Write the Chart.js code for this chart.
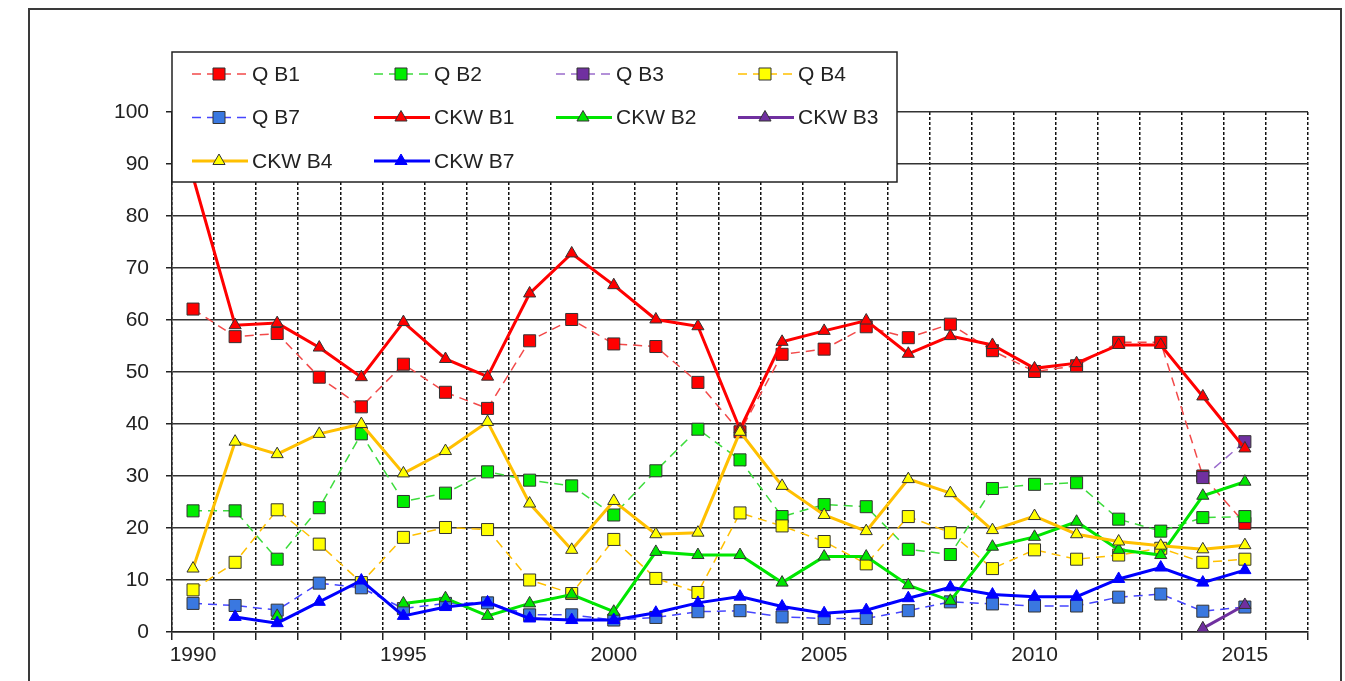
<!DOCTYPE html>
<html>
<head>
<meta charset="utf-8">
<title>Q / CKW B1-B7</title>
<script src="https://cdn.jsdelivr.net/npm/chart.js@4.4.0/dist/chart.umd.min.js"></script>
<style>
    html, body { margin: 0; padding: 0; background: #fff; }
    #wrap { width: 1345px; height: 681px; }
</style>
</head>
<body>
<div id="wrap"><canvas id="myChart" width="1345" height="681"></canvas></div>
<script>
const years = [1990, 1991, 1992, 1993, 1994, 1995, 1996, 1997, 1998, 1999,
    2000, 2001, 2002, 2003, 2004, 2005, 2006, 2007, 2008, 2009,
    2010, 2011, 2012, 2013, 2014, 2015, 2016];
const yTicks = [0, 10, 20, 30, 40, 50, 60, 70, 80, 90, 100];

const qB1 = [62.1, 56.8, 57.4, 49.0, 43.3, 51.5, 46.1, 43.0, 56.0, 60.1, 55.4, 54.9, 48.0, 38.5, 53.4, 54.4, 58.7, 56.6, 59.2, 54.1, 50.1, 51.2, 55.7, 55.7, 30.0, 20.9, null];
const qB2 = [23.3, 23.3, 14.0, 23.9, 38.1, 25.1, 26.7, 30.8, 29.2, 28.1, 22.5, 31.0, 39.0, 33.1, 22.2, 24.5, 24.1, 15.9, 14.9, 27.6, 28.4, 28.7, 21.7, 19.4, 22.0, 22.2, null];
const qB3 = [null, null, null, null, null, null, null, null, null, null, null, null, null, null, null, null, null, null, null, null, null, null, null, null, 29.7, 36.6, null];
const qB4 = [8.1, 13.4, 23.5, 16.9, 9.5, 18.2, 20.1, 19.7, 10.0, 7.4, 17.8, 10.3, 7.6, 22.9, 20.4, 17.4, 13.1, 22.2, 19.1, 12.2, 15.8, 14.0, 14.8, 16.1, 13.4, 14.0, null];
const qB7 = [5.5, 5.1, 4.2, 9.4, 8.5, 4.5, 5.5, 5.6, 3.3, 3.3, 2.3, 2.8, 3.9, 4.1, 2.9, 2.6, 2.6, 4.1, 5.8, 5.4, 5.0, 5.0, 6.7, 7.3, 4.0, 4.8, null];

const ckwB1 = [87.5, 59.0, 59.4, 54.7, 49.0, 59.6, 52.5, 49.1, 65.1, 72.8, 66.7, 60.1, 58.8, 39.0, 55.8, 57.9, 59.9, 53.5, 56.9, 55.2, 50.7, 51.7, 55.2, 55.2, 45.3, 35.3, null];
const ckwB2 = [null, null, 3.1, null, null, 5.5, 6.5, 3.1, 5.5, 7.2, 3.9, 15.4, 14.8, 14.8, 9.5, 14.5, 14.5, 9.0, 6.0, 16.4, 18.3, 21.2, 15.8, 14.8, 26.2, 28.9, null];
const ckwB3 = [null, null, null, null, null, null, null, null, null, null, null, null, null, null, null, null, null, null, null, null, null, null, null, null, 0.7, 5.2, null];
const ckwB4 = [12.2, 36.6, 34.2, 38.1, 40.0, 30.5, 34.8, 40.4, 24.7, 15.8, 25.2, 18.8, 19.1, 38.5, 28.1, 22.5, 19.4, 29.4, 26.7, 19.6, 22.3, 18.8, 17.4, 16.6, 15.9, 16.7, null];
const ckwB7 = [null, 2.9, 1.7, 5.8, 9.9, 3.1, 4.8, 5.7, 2.6, 2.3, 2.3, 3.7, 5.6, 6.8, 4.9, 3.6, 4.2, 6.5, 8.6, 7.2, 6.8, 6.8, 10.2, 12.4, 9.5, 11.9, null];

const FONT = "'Liberation Sans', Arial, sans-serif";
const FONT_SIZE = 21;
const MARK_EDGE = '#333333';

function qSeries(label, data, line, fill) {
    return {
        label: label,
        data: data,
        borderColor: line,
        backgroundColor: fill,
        borderWidth: 1.5,
        borderDash: [9, 6],
        pointStyle: 'rect',
        pointRadius: 8.5,
        pointBackgroundColor: fill,
        pointBorderColor: MARK_EDGE,
        pointBorderWidth: 1,
        spanGaps: false
    };
}

function ckwSeries(label, data, line, fill, edge) {
    return {
        label: label,
        data: data,
        borderColor: line,
        backgroundColor: fill,
        borderWidth: 3,
        pointStyle: 'triangle',
        pointRadius: 7,
        pointBackgroundColor: fill,
        pointBorderColor: edge || MARK_EDGE,
        pointBorderWidth: 1,
        spanGaps: false
    };
}

const datasets = [
    qSeries('Q B1', qB1, '#f24a4a', '#ff0000'),
    qSeries('Q B2', qB2, '#3ddc3d', '#00ee00'),
    qSeries('Q B3', qB3, '#9a6ccc', '#7030a0'),
    qSeries('Q B4', qB4, '#ffc000', '#ffff00'),
    qSeries('Q B7', qB7, '#4646ff', '#3a78e0'),
    ckwSeries('CKW B1', ckwB1, '#ff0000', '#ff0000'),
    ckwSeries('CKW B2', ckwB2, '#00e600', '#00e600'),
    ckwSeries('CKW B3', ckwB3, '#7030a0', '#7030a0'),
    ckwSeries('CKW B4', ckwB4, '#ffc000', '#ffff00'),
    ckwSeries('CKW B7', ckwB7, '#0000ff', '#0000ff', '#0000ff')
];
// later series on top, like the original
datasets.forEach((ds, i) => { ds.order = datasets.length - i; });

function drawMarker(ctx, ds, x, y) {
    ctx.save();
    ctx.fillStyle = ds.pointBackgroundColor;
    ctx.strokeStyle = ds.pointBorderColor;
    ctx.lineWidth = ds.pointBorderWidth;
    ctx.setLineDash([]);
    ctx.beginPath();
    if (ds.pointStyle === 'rect') {
        const s = ds.pointRadius * Math.SQRT1_2;
        ctx.rect(x - s, y - s, 2 * s, 2 * s);
    } else {
        const r = ds.pointRadius;
        ctx.moveTo(x, y - r);
        ctx.lineTo(x + r * 0.866, y + r / 2);
        ctx.lineTo(x - r * 0.866, y + r / 2);
        ctx.closePath();
    }
    ctx.fill();
    ctx.stroke();
    ctx.restore();
}

const framePlugin = {
    id: 'frame',
    beforeDraw(chart) {
        const ctx = chart.ctx;
        ctx.save();
        ctx.fillStyle = '#ffffff';
        ctx.fillRect(0, 0, chart.width, chart.height);
        ctx.strokeStyle = '#3a3a3a';
        ctx.lineWidth = 2;
        ctx.strokeRect(29, 9, 1312, 720);
        ctx.restore();
    }
};

const legendBox = {
    id: 'legendBox',
    afterDatasetsDraw(chart) {
        const ctx = chart.ctx;
        const left = chart.chartArea.left;
        const top = 52, width = 725, height = 130;
        const cols = [192, 374, 556, 738];
        const rows = [74, 117.5, 161];

        ctx.save();
        ctx.fillStyle = '#ffffff';
        ctx.fillRect(left, top, width, height);
        ctx.strokeStyle = '#222222';
        ctx.lineWidth = 1.5;
        ctx.strokeRect(left, top, width, height);

        chart.data.datasets.forEach((ds, i) => {
            const x = cols[i % 4];
            const y = rows[Math.floor(i / 4)];
            ctx.save();
            ctx.strokeStyle = ds.borderColor;
            ctx.lineWidth = ds.borderWidth;
            ctx.setLineDash(ds.borderDash || []);
            ctx.beginPath();
            ctx.moveTo(x, y);
            ctx.lineTo(x + 56, y);
            ctx.stroke();
            ctx.restore();
            drawMarker(ctx, ds, x + 27, y);

            ctx.fillStyle = '#222222';
            ctx.font = FONT_SIZE + 'px ' + FONT;
            ctx.textBaseline = 'middle';
            ctx.fillText(ds.label, x + 60, y + 1);
        });
        ctx.restore();
    }
};

const ctx = document.getElementById('myChart').getContext('2d');
const myChart = new Chart(ctx, {
    type: 'line',
    data: {
        labels: years,
        datasets: datasets
    },
    options: {
        responsive: false,
        animation: false,
        devicePixelRatio: 1,
        layout: {
            padding: { left: 0, right: 37, top: 112, bottom: 0 }
        },
        plugins: {
            legend: { display: false },
            tooltip: { enabled: false }
        },
        scales: {
            x: {
                type: 'category',
                offset: true,
                afterFit: (scale) => { scale.height = 49; },
                grid: {
                    offset: true,
                    color: '#111111',
                    lineWidth: 1.5,
                    tickLength: 8,
                    tickColor: '#222222',
                    tickWidth: 1.5
                },
                border: { display: true, color: '#222222', width: 1.5, dash: [3, 2] },
                ticks: {
                    autoSkip: false,
                    maxRotation: 0,
                    padding: 3,
                    color: '#222222',
                    font: { family: FONT, size: FONT_SIZE },
                    callback: function (value, index) {
                        return years[index] % 5 === 0 ? String(years[index]) : '';
                    }
                }
            },
            y: {
                min: yTicks[0],
                max: yTicks[yTicks.length - 1],
                afterFit: (scale) => { scale.width = 172; },
                grid: {
                    color: (c) => (c.tick && c.tick.value % 10 !== 0) ? 'rgba(0,0,0,0)' : '#333333',
                    lineWidth: 1.5,
                    tickLength: 6,
                    tickColor: '#222222',
                    tickWidth: 1.5
                },
                border: { display: true, color: '#222222', width: 1.5 },
                ticks: {
                    stepSize: 5,
                    padding: 17,
                    color: '#222222',
                    font: { family: FONT, size: FONT_SIZE },
                    callback: (v) => (yTicks.indexOf(v) >= 0 ? String(v) : '')
                }
            }
        }
    },
    plugins: [framePlugin, legendBox]
});
</script>
</body>
</html>
